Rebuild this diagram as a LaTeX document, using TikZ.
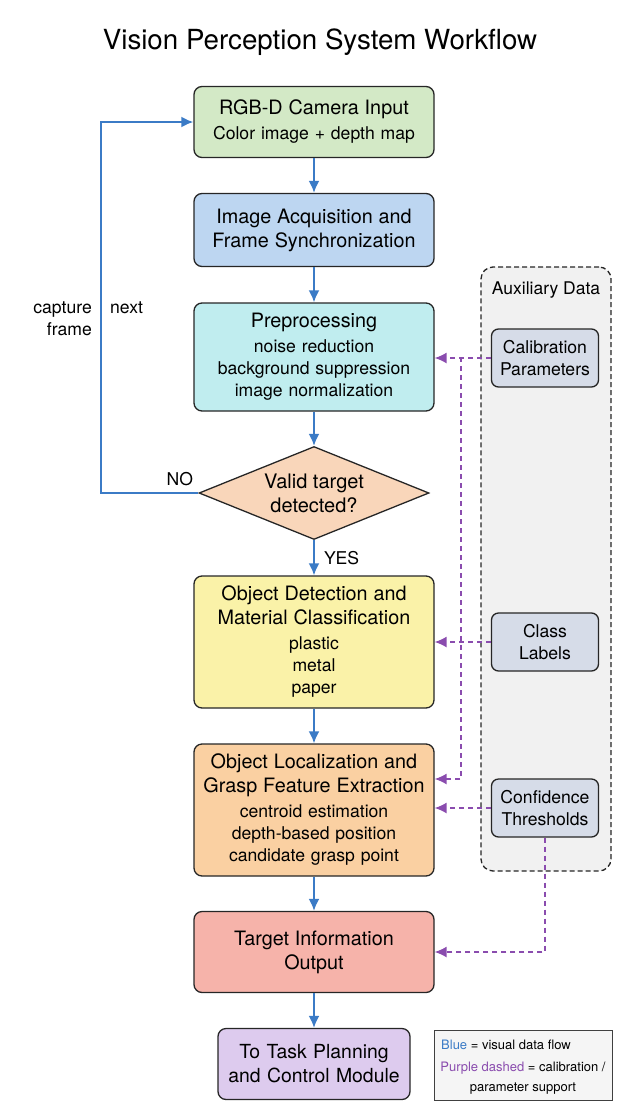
\documentclass[tikz,border=0pt]{standalone}
\usepackage{fontspec}
\setmainfont{TeX Gyre Heros}
\usetikzlibrary{shapes.geometric,arrows.meta,calc}
\definecolor{flowblue}{HTML}{3B7BC6}
\definecolor{parampurple}{HTML}{8A4CAE}
\definecolor{camgreen}{HTML}{D3E9C6}
\definecolor{acqblue}{HTML}{BDD6F1}
\definecolor{precyan}{HTML}{C0EDEF}
\definecolor{decpeach}{HTML}{F9D6BA}
\definecolor{detyellow}{HTML}{FAF2A8}
\definecolor{locorange}{HTML}{FAD0A2}
\definecolor{outred}{HTML}{F6B3AA}
\definecolor{taskpurple}{HTML}{DDCBEE}
\definecolor{auxgray}{HTML}{D6DCE8}
\definecolor{panelgray}{HTML}{F1F1F1}
\tikzset{>={Latex[length=12pt,width=11pt]}}
\tikzset{
	stage/.style={draw=black!85, line width=1.3pt, rounded corners=8pt, minimum width=240pt, text width=236pt, align=center, inner sep=0pt, font=\fontsize{17.6}{22}\selectfont},
	decision/.style={draw=black!85, line width=1.3pt, fill=decpeach, diamond, minimum width=230pt, minimum height=93pt, inner sep=0pt},
	auxitem/.style={draw=black!85, line width=1.3pt, rounded corners=7pt, fill=auxgray, minimum width=107pt, minimum height=58pt, text width=104pt, align=center, inner sep=0pt, font=\fontsize{17.6}{22}\selectfont},
	flow/.style={->, draw=flowblue, line width=2pt},
	param/.style={->, draw=parampurple, line width=1.5pt, dash pattern=on 5pt off 4pt},
	note/.style={font=\fontsize{17.6}{22}\selectfont, inner sep=0pt}
}
\newcommand{\stagehead}[1]{{\fontsize{19.8}{22}\selectfont #1}}

\begin{document}
\begin{tikzpicture}[x=1pt,y=-1pt]
	\useasboundingbox (0,0) rectangle (618,1114);
	
	% Title
	\node[font=\fontsize{27.7}{32}\selectfont] (title) at (320,42) {Vision Perception System Workflow};
	
	% Auxiliary data panel
	\node[draw=black!85, line width=1.3pt, dash pattern=on 5pt off 3pt, rounded corners=12pt, fill=panelgray, minimum width=130pt, minimum height=604pt] (aux) at (546,569) {};
	\node[font=\fontsize{17.5}{20}\selectfont] (auxtitle) at (546,290) {Auxiliary Data};
	
	% Main stages
	\node[stage, fill=camgreen, minimum height=71pt] (camera) at (314,122) {\stagehead{RGB-D Camera Input}\\[3pt] Color image + depth map};
	\node[stage, fill=acqblue, minimum height=73pt] (acquire) at (314,230) {\stagehead{Image Acquisition and}\\[2pt] \stagehead{Frame Synchronization}};
	\node[stage, fill=precyan, minimum height=108pt] (prep) at (314,357) {\stagehead{Preprocessing}\\[3pt] noise reduction\\ background suppression\\ image normalization};
	\node[decision] (valid) at (314,493) {};
	\node[align=center, inner sep=0pt, font=\fontsize{20}{24}\selectfont] (validtext) at (valid) {Valid target\\ detected?};
	\node[stage, fill=detyellow, minimum height=132pt] (detect) at (314,642) {\stagehead{Object Detection and}\\[2pt] \stagehead{Material Classification}\\[3pt] plastic\\ metal\\ paper};
	\node[stage, fill=locorange, minimum height=132pt] (locate) at (314,810) {\stagehead{Object Localization and}\\[2pt] \stagehead{Grasp Feature Extraction}\\[3pt] centroid estimation\\ depth-based position\\ candidate grasp point};
	\node[stage, fill=outred, minimum height=81pt] (target) at (314,952) {\stagehead{Target Information}\\[2pt] \stagehead{Output}};
	\node[stage, fill=taskpurple, minimum width=192pt, text width=190pt, minimum height=71pt, font=\fontsize{19.4}{24}\selectfont] (task) at (314,1064) {To Task Planning\\ and Control Module};
	
	% Auxiliary items
	\node[auxitem] (calib) at (545,358) {Calibration\\ Parameters};
	\node[auxitem] (classes) at (545,642) {Class\\ Labels};
	\node[auxitem] (conf) at (545,808) {Confidence\\ Thresholds};
	
	% Loop back
	\coordinate (loopx) at (101,0);
	\coordinate (branch) at (461,357);
	
	% Visual data flow
	\draw[flow] (camera) -- (acquire);
	\draw[flow] (acquire) -- (prep);
	\draw[flow] (prep) -- (valid);
	\draw[flow] (valid) -- node[note, right=9pt] {YES} (detect);
	\draw[flow] (detect) -- (locate);
	\draw[flow] (locate) -- (target);
	\draw[flow] (target) -- (task);
	\draw[flow] (valid.west) -- node[note, above=6pt, pos=0.19] {NO} (loopx |- valid.west) |- (camera.west);
	\node[note, align=right, anchor=east] (capture) at (92,319) {capture\\ frame};
	\node[note, anchor=west] (nextlbl) at (110,308) {next};
	
	% Parameter support
	\draw[param] (calib.west) -- (calib.west -| prep.east);
	\draw[param] (branch) |- ([yshift=31pt]locate.east);
	\draw[param] (classes) -- (detect);
	\draw[param] (conf.west) -- (conf.west -| locate.east);
	\draw[param] (conf.south) |- (target.east);
	
	% Legend
	\node[draw=black!75, line width=1pt, fill=white!96!black, minimum width=178pt, minimum height=70pt, inner sep=0pt] (legend) at (523,1065) {};
	\node[font=\fontsize{13}{15}\selectfont, anchor=west, inner sep=0pt] (legblue) at (441,1045) {\textcolor{flowblue}{Blue} = visual data flow};
	\node[font=\fontsize{13}{20}\selectfont, align=center, inner sep=0pt] (legpurple) at (523,1078) {\textcolor{parampurple}{Purple dashed} = calibration /\\ parameter support};
\end{tikzpicture}
\end{document}
